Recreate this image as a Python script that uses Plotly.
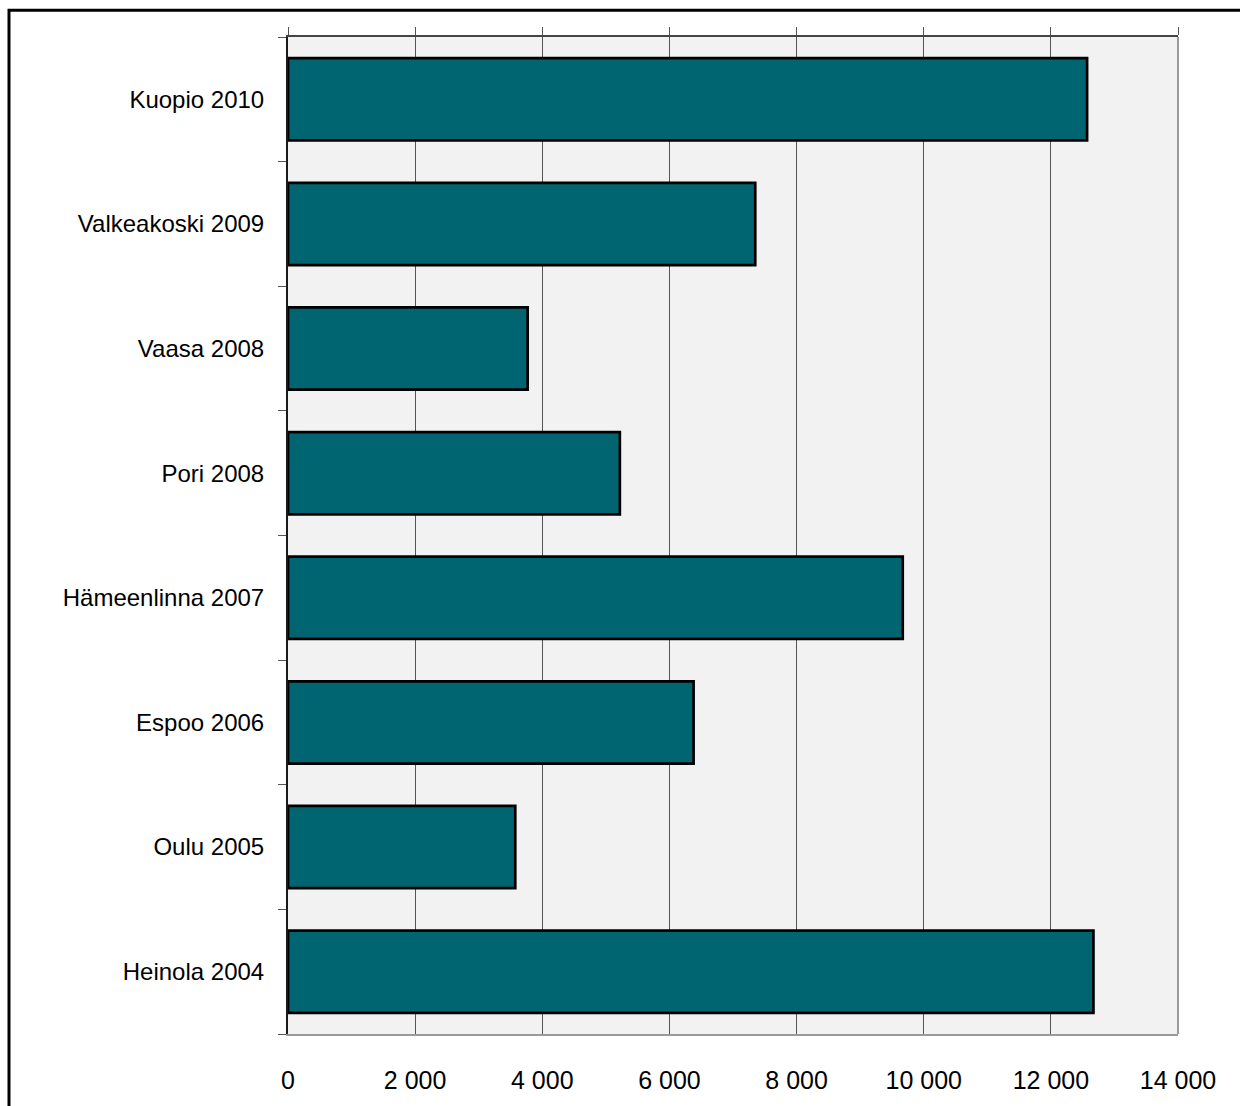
import plotly.graph_objects as go

categories = ["Heinola 2004", "Oulu 2005", "Espoo 2006", "Hämeenlinna 2007",
              "Pori 2008", "Vaasa 2008", "Valkeakoski 2009", "Kuopio 2010"]
values = [12670, 3575, 6380, 9670, 5220, 3770, 7350, 12570]
tick_vals = [0, 2000, 4000, 6000, 8000, 10000, 12000, 14000]
tick_labels = ["0", "2 000", "4 000", "6 000", "8 000", "10 000", "12 000", "14 000"]

W, H = 1240, 1106
L, R, T, B = 288, 1178, 37, 1040

def px(x):
    return (x - L) / (R - L)

def py(y):
    return (B - y) / (B - T)

fig = go.Figure()
fig.add_trace(go.Bar(
    x=values, y=categories, orientation="h",
    marker=dict(color="#016571", line=dict(color="#000000", width=2.7)),
    hoverinfo="x+y", showlegend=False,
))
fig.add_trace(go.Scatter(x=[0], y=[categories[0]], xaxis="x2", mode="markers",
                         marker=dict(opacity=0), showlegend=False, hoverinfo="skip"))

yfont = dict(family="Liberation Sans, Arial, sans-serif", size=24, color="#000000")
xfont = dict(family="Liberation Sans, Arial, sans-serif", size=25, color="#000000")

fig.update_layout(
    width=W, height=H,
    margin=dict(l=L, r=W - R, t=T, b=H - B, pad=0),
    paper_bgcolor="#ffffff",
    plot_bgcolor="#f2f2f2",
    font=yfont,
    bargap=0.34,
    xaxis=dict(
        range=[0, 14000], tickvals=tick_vals, ticktext=tick_labels,
        showgrid=True, gridcolor="#555555", gridwidth=1,
        zeroline=False, showline=True, linecolor="#9a9a9a", linewidth=2,
        ticks="", ticklabelstandoff=23, tickfont=xfont, fixedrange=True,
    ),
    xaxis2=dict(
        range=[0, 14000], overlaying="x", side="top", tickvals=tick_vals,
        showticklabels=False, showgrid=False, zeroline=False,
        showline=True, linecolor="#444444", linewidth=2,
        ticks="outside", ticklen=8, tickcolor="#555555", tickwidth=1,
        fixedrange=True,
    ),
    yaxis=dict(
        categoryorder="array", categoryarray=categories,
        showgrid=False, zeroline=False, showline=True, linecolor="#1a1a1a", linewidth=2,
        ticks="outside", ticklen=8, tickcolor="#555555", tickwidth=1,
        tickson="boundaries", ticklabelstandoff=17, tickfont=yfont, fixedrange=True,
    ),
    shapes=[
        dict(type="line", xref="paper", yref="paper", x0=1, x1=1, y0=0, y1=1,
             line=dict(color="#9a9a9a", width=2)),
        dict(type="rect", xref="paper", yref="paper",
             x0=px(9), x1=px(1260), y0=py(1130), y1=py(10),
             line=dict(color="#000000", width=3), fillcolor="rgba(0,0,0,0)", layer="above"),
    ],
)

fig.write_html(
    "out.html",
    config={"displayModeBar": False},
    post_script="document.body.style.margin='0';document.body.style.overflow='hidden';",
)
